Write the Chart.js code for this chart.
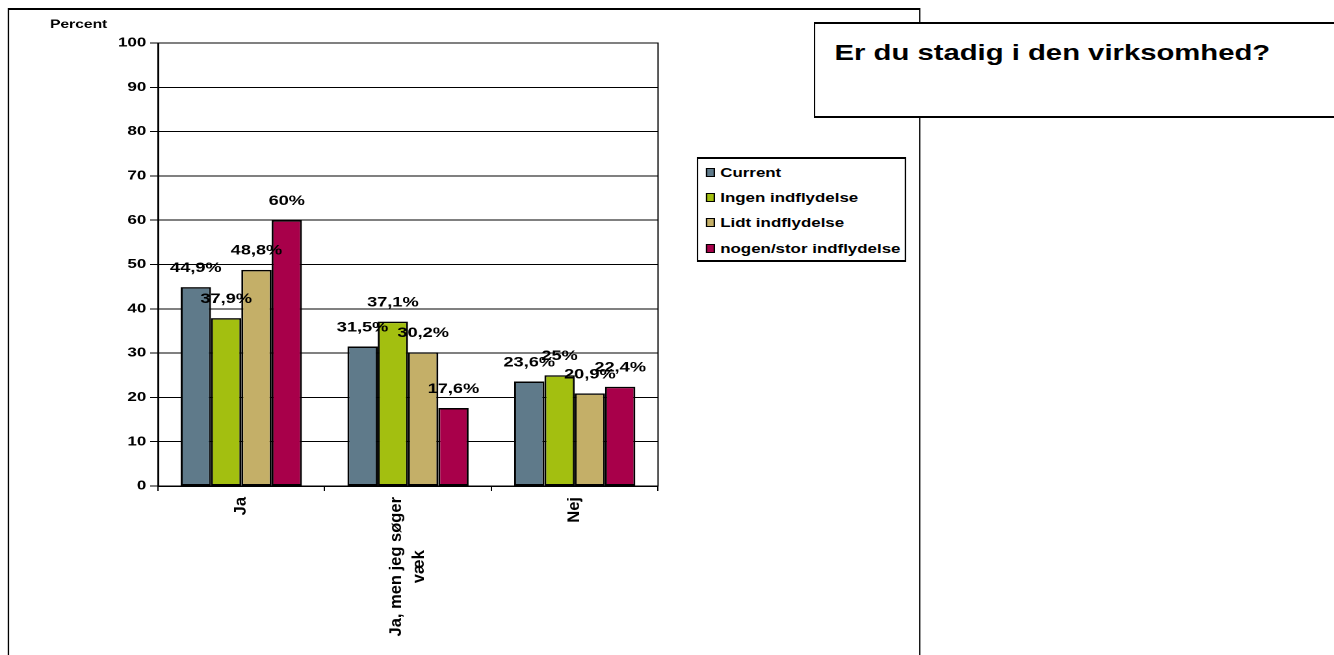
<!DOCTYPE html>
<html>
<head>
<meta charset="utf-8">
<script src="https://cdn.jsdelivr.net/npm/chart.js"></script>
<style>
  html, body { margin: 0; padding: 0; background: #fff; overflow: hidden; }
  body { width: 1334px; height: 655px; position: relative; }
  /* the reference is stretched sideways, so the whole drawing is too */
  #stage {
    position: absolute; left: 0; top: 0;
    width: 1026px; height: 655px;
    transform: scaleX(1.3); transform-origin: 0 0;
    font-family: "Liberation Sans", Arial, sans-serif; font-weight: bold;
  }
  #chartWrap { position: absolute; left: 0; top: 0; width: 1026px; height: 655px; }
  #frame {
    position: absolute; left: 6px; top: 8px; width: 700px; height: 700px;
    border-style: solid; border-color: #000; border-width: 2px 1.5px;
  }
  #titleBox {
    position: absolute; left: 626px; top: 22px; width: 460px; height: 92px;
    border-style: solid; border-color: #000; border-width: 2px 1.5px; background: #fff;
  }
  #titleText {
    position: absolute; left: 642px; top: 40px; font-size: 22.5px; line-height: 26px;
    white-space: nowrap; color: #000;
  }
  #legend {
    position: absolute; left: 536px; top: 157px; width: 159px; height: 101px;
    border-style: solid; border-color: #000; border-width: 2px 1.5px; background: #fff;
  }
  .row { position: absolute; left: 0; height: 16px; line-height: 16px; font-size: 13px; white-space: nowrap; }
  .sw { position: absolute; left: 6px; top: 3px; width: 5px; height: 7px; border: 1px solid #000; }
  .lbl { position: absolute; left: 17px; top: 0; }
</style>
</head>
<body>
<div id="stage">
  <div id="frame"></div>
  <div id="chartWrap"><canvas id="chart"></canvas></div>
  <div id="legend"></div>
  <div id="titleBox"></div>
  <div id="titleText">Er du stadig i den virksomhed?</div>
</div>
<script>
const categories = [['Ja'], ['Ja, men jeg søger', 'væk'], ['Nej']];
const seriesNames = ['Current', 'Ingen indflydelse', 'Lidt indflydelse', 'nogen/stor indflydelse'];
const current = [44.9, 31.5, 23.6];
const ingen = [37.9, 37.1, 25];
const lidt = [48.8, 30.2, 20.9];
const nogen = [60, 17.6, 22.4];
const seriesColors = ['#5f7a8a', '#a3bf10', '#c4af68', '#a8004a'];
const yMin = 0, yMax = 100, yStep = 10;

const FONT = '"Liberation Sans", Arial, sans-serif';
Chart.defaults.font.family = FONT;
Chart.defaults.font.weight = 'bold';
Chart.defaults.color = '#000';

const fmt = v => String(v).replace('.', ',') + '%';

const extras = {
  id: 'extras',
  afterDatasetsDraw(chart) {
    const { ctx, chartArea: a, scales: { x } } = chart;
    ctx.save();
    ctx.strokeStyle = '#000';
    ctx.lineWidth = 1;
    ctx.strokeRect(a.left, a.top, a.right - a.left, a.bottom - a.top);

    ctx.fillStyle = '#000';
    ctx.textAlign = 'center';
    ctx.textBaseline = 'middle';
    ctx.font = 'bold 14px ' + FONT;
    chart.data.datasets.forEach((ds, i) => {
      chart.getDatasetMeta(i).data.forEach((bar, j) => {
        ctx.fillText(fmt(ds.data[j]), bar.x, bar.y - 19);
      });
    });

    // rotated category names; stretched along their length like the rest
    ctx.font = 'bold 13px ' + FONT;
    categories.forEach((lines, i) => {
      const cx = x.getPixelForValue(i);
      const w = Math.max(...lines.map(l => ctx.measureText(l).width));
      ctx.save();
      ctx.translate(cx, a.bottom + 11);
      ctx.rotate(-Math.PI / 2);
      ctx.scale(1.27, 1);
      lines.forEach((l, k) => {
        ctx.fillText(l, -w / 2, (k - (lines.length - 1) / 2) * 17.5);
      });
      ctx.restore();
    });

    ctx.textAlign = 'left';
    ctx.font = 'bold 12px ' + FONT;
    ctx.fillText('Percent', 38.5, 24.5);
    ctx.restore();
  }
};

new Chart(document.getElementById('chart'), {
  type: 'bar',
  data: {
    labels: categories,
    datasets: [current, ingen, lidt, nogen].map((d, i) => ({
      label: seriesNames[i],
      data: d,
      backgroundColor: seriesColors[i],
      borderColor: '#000',
      borderWidth: 1.5,
      borderSkipped: false,
      categoryPercentage: 0.727,
      barPercentage: 1
    }))
  },
  options: {
    responsive: true,
    maintainAspectRatio: false,
    animation: false,
    devicePixelRatio: 2,
    layout: { padding: { left: 20, top: 43, right: 519.8, bottom: 0 } },
    plugins: { legend: { display: false }, tooltip: { enabled: false } },
    scales: {
      x: {
        ticks: { display: false },
        grid: { drawOnChartArea: false, drawTicks: true, tickLength: 5, color: '#000', offset: true },
        border: { color: '#000', width: 1.5 },
        afterFit: s => { s.height = 169; }
      },
      y: {
        min: yMin, max: yMax,
        ticks: { stepSize: yStep, padding: 3, font: { size: 13, weight: 'bold' }, color: '#000' },
        grid: { color: '#000', lineWidth: 1, tickLength: 6 },
        border: { color: '#000', width: 1.5 },
        afterFit: s => { s.width = 101.5; }
      }
    }
  },
  plugins: [extras]
});

const legend = document.getElementById('legend');
const rowCenters = [14, 39, 64, 90];
seriesNames.forEach((name, i) => {
  const row = document.createElement('div');
  row.className = 'row';
  row.style.top = (rowCenters[i] - 8) + 'px';
  row.innerHTML = '<span class="sw" style="background:' + seriesColors[i] + '"></span><span class="lbl"></span>';
  row.querySelector('.lbl').textContent = name;
  legend.appendChild(row);
});
</script>
</body>
</html>
